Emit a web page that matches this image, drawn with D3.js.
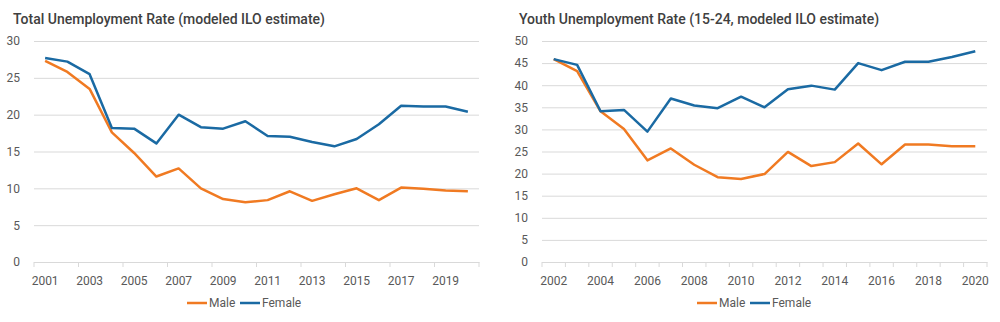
<!DOCTYPE html>
<html>
	<head>
		<meta charset="utf-8" />
		<title>Unemployment Rate</title>
		<script src="https://cdn.jsdelivr.net/npm/d3@7"></script>
		<style>
			body {
				margin: 0;
				background: #fff;
				font-family: 'Roboto', sans-serif;
			}

			.title {
				font-size: 14px;
				font-weight: 500;
				fill: #404040;
			}

			.axis text {
				font-size: 12px;
				fill: #595959;
				font-family: 'Roboto', sans-serif;
			}

			.grid line {
				stroke: #d9d9d9;
				stroke-width: 1px;
			}

			.legend text {
				font-size: 12px;
				fill: #595959;
			}
		</style>
	</head>

	<body>
		<svg id="chart"></svg>

		<script>
			const maleColor = '#f07a22';
			const femaleColor = '#1a6aa3';

			// total unemployment, 2001-2020
			const totalYears = d3.range(2001, 2021);
			const totalMale = [
				27.3, 25.8, 23.5, 17.6, 14.8, 11.6, 12.7, 10.0, 8.55, 8.1,
				8.4, 9.6, 8.3, 9.2, 10.0, 8.4, 10.1, 9.95, 9.7, 9.6,
			];
			const totalFemale = [
				27.7, 27.2, 25.5, 18.2, 18.1, 16.1, 20.0, 18.3, 18.1, 19.1,
				17.1, 17.0, 16.3, 15.7, 16.7, 18.7, 21.2, 21.1, 21.1, 20.4,
			];
			const totalYTicks = [0, 5, 10, 15, 20, 25, 30];

			// youth unemployment (15-24), 2002-2020
			const youthYears = d3.range(2002, 2021);
			const youthMale = [
				45.9, 43.2, 34.1, 30.1, 23.0, 25.7, 22.0, 19.2, 18.8, 19.9,
				24.9, 21.7, 22.6, 26.8, 22.1, 26.6, 26.6, 26.2, 26.2,
			];
			const youthFemale = [
				45.9, 44.6, 34.1, 34.4, 29.5, 37.0, 35.4, 34.8, 37.4, 35.0,
				39.1, 39.9, 39.0, 45.0, 43.4, 45.3, 45.3, 46.4, 47.7,
			];
			const youthYTicks = [0, 5, 10, 15, 20, 25, 30, 35, 40, 45, 50];

			const width = 1000;
			const height = 322;

			const svg = d3
				.select('#chart')
				.attr('width', width)
				.attr('height', height);

			drawChart({
				title: 'Total Unemployment Rate (modeled ILO estimate)',
				titleX: 13,
				left: 34,
				right: 479,
				years: totalYears,
				male: totalMale,
				female: totalFemale,
				yTicks: totalYTicks,
				tickEvery: 2,
				legendX: 187,
			});

			drawChart({
				title: 'Youth Unemployment Rate (15-24, modeled ILO estimate)',
				titleX: 519,
				left: 542,
				right: 987,
				years: youthYears,
				male: youthMale,
				female: youthFemale,
				yTicks: youthYTicks,
				tickEvery: 1,
				legendX: 697,
			});

			function drawChart(opt) {
				const top = 41;
				const bottom = 262;
				const g = svg.append('g');

				g.append('text')
					.attr('class', 'title')
					.attr('x', opt.titleX)
					.attr('y', 24)
					.text(opt.title);

				const x = d3
					.scaleBand()
					.domain(opt.years)
					.range([opt.left, opt.right])
					.padding(0);

				const y = d3
					.scaleLinear()
					.domain([0, d3.max(opt.yTicks)])
					.range([bottom, top]);

				// gridlines + y labels
				const yAxis = g
					.append('g')
					.attr('class', 'axis grid')
					.attr('transform', `translate(${opt.left},0)`)
					.call(
						d3
							.axisLeft(y)
							.tickValues(opt.yTicks)
							.tickSize(-(opt.right - opt.left))
							.tickPadding(14)
					);
				yAxis.select('.domain').remove();

				// x labels every other year
				const labelYears = opt.years.filter((d, i) => i % 2 === 0);
				const xAxis = g
					.append('g')
					.attr('class', 'axis')
					.attr('transform', `translate(0,${bottom})`)
					.call(
						d3
							.axisBottom(x)
							.tickValues(labelYears)
							.tickSize(0)
							.tickPadding(14)
					);
				xAxis.select('.domain').attr('stroke', '#d9d9d9');

				// tick marks between categories
				const tickPos = opt.years
					.filter((d, i) => i % opt.tickEvery === 0)
					.map((d) => x(d));
				tickPos.push(opt.right);
				g.append('g')
					.selectAll('line')
					.data(tickPos)
					.join('line')
					.attr('x1', (d) => d)
					.attr('x2', (d) => d)
					.attr('y1', bottom)
					.attr('y2', bottom + 5)
					.attr('stroke', '#d9d9d9');

				const line = d3
					.line()
					.x((d, i) => x(opt.years[i]) + x.bandwidth() / 2)
					.y((d) => y(d));

				g.append('path')
					.datum(opt.male)
					.attr('fill', 'none')
					.attr('stroke', maleColor)
					.attr('stroke-width', 2.5)
					.attr('stroke-linejoin', 'round')
					.attr('d', line);

				g.append('path')
					.datum(opt.female)
					.attr('fill', 'none')
					.attr('stroke', femaleColor)
					.attr('stroke-width', 2.5)
					.attr('stroke-linejoin', 'round')
					.attr('d', line);

				// legend
				const legend = g
					.append('g')
					.attr('class', 'legend')
					.attr('transform', `translate(${opt.legendX},303)`);
				const items = [
					{ name: 'Male', color: maleColor, dx: 0 },
					{ name: 'Female', color: femaleColor, dx: 53 },
				];
				const item = legend
					.selectAll('g')
					.data(items)
					.join('g')
					.attr('transform', (d) => `translate(${d.dx},0)`);
				item.append('line')
					.attr('x1', 0)
					.attr('x2', 20)
					.attr('stroke', (d) => d.color)
					.attr('stroke-width', 2.5);
				item.append('text')
					.attr('x', 22)
					.attr('dy', '0.35em')
					.text((d) => d.name);
			}
		</script>
	</body>
</html>
